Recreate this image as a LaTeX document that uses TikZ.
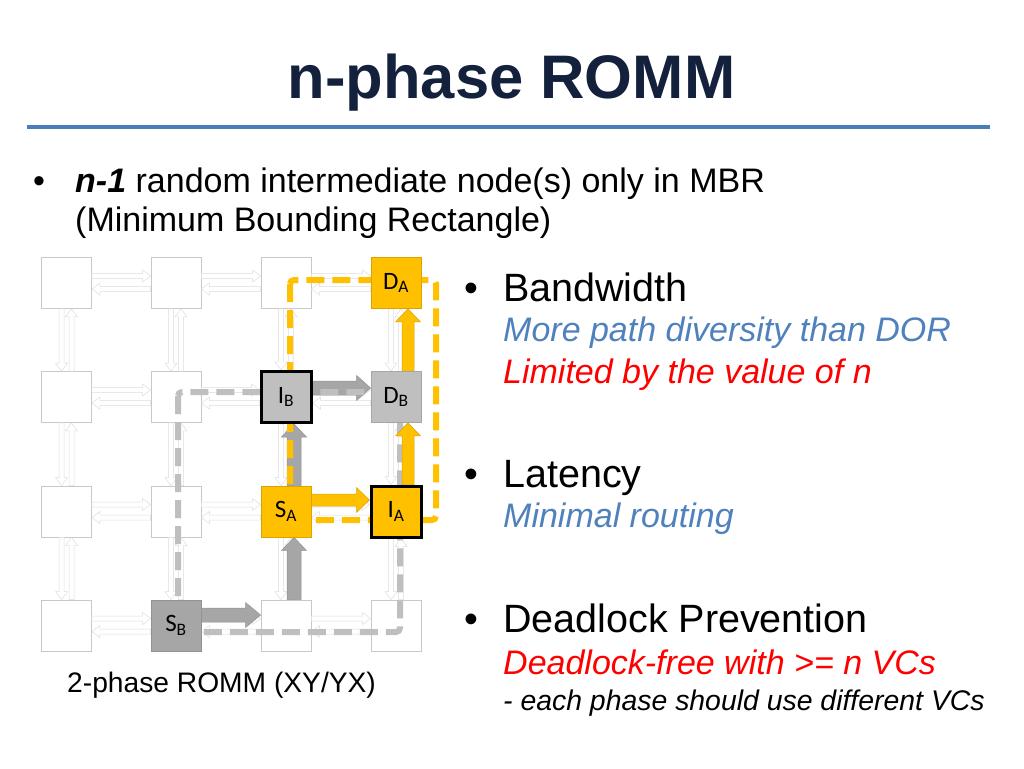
\documentclass[tikz,border=0pt]{standalone}
\usepackage{fontspec}
\setmainfont{Liberation Sans}
\newfontfamily\calib{Carlito}
\usetikzlibrary{calc}
\definecolor{orng}{HTML}{FFC000}
\definecolor{orngdk}{HTML}{D9A400}
\definecolor{gfill}{HTML}{BFBFBF}
\definecolor{gdark}{HTML}{A6A6A6}
\definecolor{gline}{HTML}{929292}
\definecolor{meshc}{HTML}{DDDDDD}
\definecolor{boxc}{HTML}{C8C8C8}
\definecolor{navy}{HTML}{14213D}
\definecolor{bline}{HTML}{4A7EBB}
\definecolor{subblue}{HTML}{4F81BD}
\definecolor{subred}{HTML}{FF0000}
\pgfdeclarelayer{back}
\pgfdeclarelayer{mid}
\pgfsetlayers{back,mid,main}
% block arrows: style, start, tip, shaft half width, head half width, head length
\newcommand\blkR[6]{\draw[#1] let \p1=(#2),\p2=(#3) in (\x1,\y1+#4)--(\x2-#6,\y1+#4)--(\x2-#6,\y1+#5)--(\x2,\y1)--(\x2-#6,\y1-#5)--(\x2-#6,\y1-#4)--(\x1,\y1-#4)--cycle;}
\newcommand\blkL[6]{\draw[#1] let \p1=(#2),\p2=(#3) in (\x1,\y1+#4)--(\x2+#6,\y1+#4)--(\x2+#6,\y1+#5)--(\x2,\y1)--(\x2+#6,\y1-#5)--(\x2+#6,\y1-#4)--(\x1,\y1-#4)--cycle;}
\newcommand\blkU[6]{\draw[#1] let \p1=(#2),\p2=(#3) in (\x1+#4,\y1)--(\x1+#4,\y2-#6)--(\x1+#5,\y2-#6)--(\x1,\y2)--(\x1-#5,\y2-#6)--(\x1-#4,\y2-#6)--(\x1-#4,\y1)--cycle;}
\newcommand\blkD[6]{\draw[#1] let \p1=(#2),\p2=(#3) in (\x1+#4,\y1)--(\x1+#4,\y2+#6)--(\x1+#5,\y2+#6)--(\x1,\y2)--(\x1-#5,\y2+#6)--(\x1-#4,\y2+#6)--(\x1-#4,\y1)--cycle;}
\begin{document}
\begin{tikzpicture}[x=1pt,y=-1pt,
  router/.style={draw=boxc, line width=0.8pt, minimum width=50pt, minimum height=51pt, inner sep=0pt, font=\calib\fontsize{25}{30}\selectfont},
  plainbox/.style={router, fill=white},
  dAbox/.style={router, fill=orng, draw=orngdk},
  dBbox/.style={router, fill=gfill, draw=gdark},
  iBbox/.style={router, fill=gfill, draw=black, line width=3pt},
  sAbox/.style={router, fill=orng, draw=orngdk},
  iAbox/.style={router, fill=orng, draw=black, line width=3pt},
  sBbox/.style={router, fill=gdark, draw=gline},
  mesh/.style={draw=meshc, fill=white, line width=0.5pt},
  garrow/.style={fill=gdark, draw=gline, line width=0.5pt},
  oarrow/.style={fill=orng, draw=orngdk, line width=0.5pt},
  gdash/.style={draw=gfill, line width=6pt, dash pattern=on 18pt off 8pt, rounded corners=4pt},
  odash/.style={draw=orng, line width=6pt, dash pattern=on 18pt off 8pt, rounded corners=4pt},
  txt/.style={anchor=base west, inner sep=0pt},
  big/.style={txt, font=\fontsize{34}{40}\selectfont},
  head/.style={txt, font=\fontsize{39.5}{46}\selectfont},
  sub/.style={txt, font=\itshape\fontsize{34}{40}\selectfont},
]
\useasboundingbox (0,0) rectangle (1024,768);
\begin{pgfonlayer}{back}
\fill[white] (0,0) rectangle (1024,768);
\end{pgfonlayer}

% title and rule
\node[anchor=base, inner sep=0pt, text=navy, font=\bfseries\fontsize{61.5}{72}\selectfont] (title) at (511.5,98) {n-phase ROMM};
\coordinate (ruleL) at (27,127);
\coordinate (ruleR) at (990,127);
\draw[bline, line width=4pt] (ruleL) -- (ruleR);

% top bullet
\node[big] (dot0) at (33,192) {•};
\node[big] (t1) at (75,192) {\textbf{\textit{n-1}} random intermediate node(s) only in MBR};
\node[big] (t2) at (75,231) {(Minimum Bounding Rectangle)};

% right column
\node[head] (dot1) at (464,301) {•};
\node[head] (bw) at (503,301) {Bandwidth};
\node[sub, text=subblue] (bw1) at (503,341) {More path diversity than DOR};
\node[sub, text=subred] (bw2) at (503,383) {Limited by the value of n};
\node[head] (dot2) at (464,487) {•};
\node[head] (lat) at (503,487) {Latency};
\node[sub, text=subblue] (lat1) at (503,527) {Minimal routing};
\node[head] (dot3) at (464,632) {•};
\node[head] (dl) at (503,632) {Deadlock Prevention};
\node[sub, text=subred] (dl1) at (503,674) {Deadlock-free with >= n VCs};
\node[txt, font=\itshape\fontsize{28.4}{34}\selectfont] (dl2) at (503,710) {- each phase should use different VCs};

\node[txt, font=\fontsize{28.2}{34}\selectfont] (cap) at (67,692) {2-phase ROMM (XY/YX)};

% grid positions
\foreach \ri/\ry in {1/283,2/397,3/511.5,4/625.5}{
  \foreach \ci/\cx in {1/66.5,2/176,3/286,4/396}{
    \coordinate (p\ri\ci) at (\cx,\ry);
  }
}

% coloured routers
\node[dAbox] (r14) at (p14) {D\textsubscript{A}};
\node[iBbox] (r23) at (p23) {I\textsubscript{B}};
\node[dBbox] (r24) at (p24) {D\textsubscript{B}};
\node[sAbox] (r33) at (p33) {S\textsubscript{A}};
\node[iAbox] (r34) at (p34) {I\textsubscript{A}};
\node[sBbox] (r42) at (p42) {S\textsubscript{B}};

\begin{pgfonlayer}{back}
\foreach \n in {11,12,13,21,22,31,32,41,43,44}{
  \node[plainbox] (r\n) at (p\n) {};
}
\foreach \ri in {1,...,4}{
  \foreach \ci/\cj in {1/2,2/3,3/4}{
    \blkR{mesh}{$(r\ri\ci.east)+(0,-7)$}{$(r\ri\cj.west)+(0,-7)$}{2.5pt}{6pt}{8pt}
    \blkL{mesh}{$(r\ri\cj.west)+(0,6)$}{$(r\ri\ci.east)+(0,6)$}{2.5pt}{6pt}{8pt}
  }
}
\foreach \ci in {1,...,4}{
  \foreach \ri/\rj in {1/2,2/3,3/4}{
    \blkD{mesh}{$(r\ri\ci.south)+(-5,0)$}{$(r\rj\ci.north)+(-5,0)$}{2.5pt}{6pt}{8pt}
    \blkU{mesh}{$(r\rj\ci.north)+(5,0)$}{$(r\ri\ci.south)+(5,0)$}{2.5pt}{6pt}{8pt}
  }
}
\end{pgfonlayer}

\begin{pgfonlayer}{mid}
% path B (gray)
\blkR{garrow}{$(r42.east)+(0,-10.5)$}{$(r43.west)+(0,-10.5)$}{7pt}{12.5pt}{15pt}
\blkU{garrow}{$(r43.north)+(8,0)$}{$(r33.south)+(8,0)$}{7pt}{12.5pt}{13pt}
\blkU{garrow}{$(r33.north)+(8,0)$}{$(r23.south)+(8,0)$}{7pt}{12.5pt}{13pt}
\blkR{garrow}{$(r23.east)+(0,-9)$}{$(r24.west)+(0,-9)$}{7pt}{12.5pt}{14pt}
\coordinate (gTL) at ($(r22)+(2,-5)$);
\coordinate (gBR) at ($(r44)+(4,6.5)$);
\draw[gdash] (gTL) rectangle (gBR);
% path A (orange)
\coordinate (oTL) at ($(r13)+(4,-3)$);
\coordinate (oBR) at ($(r34)+(40,8.5)$);
\draw[odash] (oTL) rectangle (oBR);
\blkR{oarrow}{$(r33.east)+(0,-11.5)$}{$(r34.west)+(0,-11.5)$}{6pt}{12.5pt}{13pt}
\blkU{oarrow}{$(r34.north)+(12,0)$}{$(r24.south)+(12,0)$}{6pt}{12.5pt}{13pt}
\blkU{oarrow}{$(r24.north)+(12,0)$}{$(r14.south)+(12,0)$}{6pt}{12.5pt}{13pt}
\end{pgfonlayer}
\end{tikzpicture}
\end{document}
